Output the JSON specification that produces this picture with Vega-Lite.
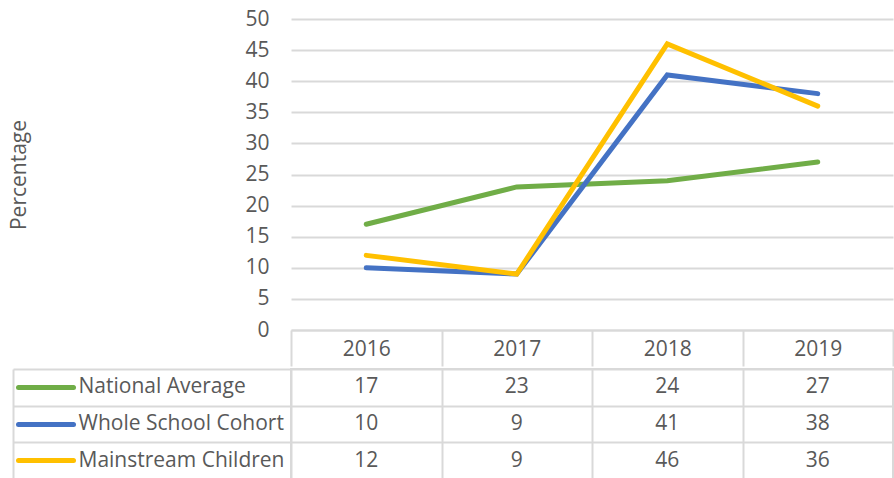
{
  "$schema": "https://vega.github.io/schema/vega-lite/v6.json",
  "background": "white",
  "padding": {"left": 8, "top": 8, "right": 0, "bottom": 0},
  "spacing": 0,
  "config": {
    "font": "Open Sans",
    "view": {"stroke": null},
    "axis": {"labelFont": "Open Sans", "labelColor": "#595959", "titleColor": "#595959", "titleFont": "Open Sans"}
  },
  "datasets": {
    "d": [
      {"year": "2016", "series": "National Average", "value": 17},
      {"year": "2017", "series": "National Average", "value": 23},
      {"year": "2018", "series": "National Average", "value": 24},
      {"year": "2019", "series": "National Average", "value": 27},
      {"year": "2016", "series": "Whole School Cohort", "value": 10},
      {"year": "2017", "series": "Whole School Cohort", "value": 9},
      {"year": "2018", "series": "Whole School Cohort", "value": 41},
      {"year": "2019", "series": "Whole School Cohort", "value": 38},
      {"year": "2016", "series": "Mainstream Children", "value": 12},
      {"year": "2017", "series": "Mainstream Children", "value": 9},
      {"year": "2018", "series": "Mainstream Children", "value": 46},
      {"year": "2019", "series": "Mainstream Children", "value": 36}
    ]
  },
  "resolve": {"scale": {"x": "independent", "y": "independent"}, "axis": {"x": "independent", "y": "independent"}},
  "vconcat": [
    {
      "width": 602,
      "height": 311,
      "data": {"name": "d"},
      "mark": {"type": "line", "strokeWidth": 5, "strokeCap": "round"},
      "encoding": {
        "x": {
          "field": "year", "type": "ordinal", "bandPosition": 0.5,
          "scale": {"type": "band", "paddingInner": 0, "paddingOuter": 0},
          "axis": {
            "title": null, "labelAngle": 0, "domain": true, "domainColor": "#d9d9d9", "domainWidth": 2,
            "ticks": true, "tickBand": "extent", "tickSize": 36, "tickColor": "#d9d9d9", "tickWidth": 2,
            "labelFontSize": 21, "labelBaseline": "middle", "labelPadding": -17, "grid": false
          }
        },
        "y": {
          "field": "value", "type": "quantitative",
          "scale": {"domain": [0, 50], "nice": false},
          "axis": {
            "title": "Percentage", "titleFontSize": 21, "titleFontWeight": "normal", "titlePadding": 215,
            "values": [0, 5, 10, 15, 20, 25, 30, 35, 40, 45, 50],
            "domain": false, "ticks": false, "labelPadding": 22, "labelFontSize": 21,
            "grid": true, "gridColor": "#d9d9d9", "gridWidth": 2
          }
        },
        "color": {
          "field": "series", "type": "nominal",
          "scale": {"domain": ["National Average", "Whole School Cohort", "Mainstream Children"], "range": ["#70ad47", "#4472c4", "#ffc000"]},
          "legend": null
        }
      }
    },
    {
      "width": 602,
      "height": 110,
      "data": {"name": "d"},
      "view": {"stroke": "#d9d9d9", "strokeWidth": 2},
      "resolve": {"axis": {"y": "independent"}},
      "layer": [
        {
          "mark": {"type": "text", "fontSize": 21, "color": "#595959", "font": "Open Sans"},
          "encoding": {
            "x": {
              "field": "year", "type": "ordinal", "bandPosition": 0.5,
              "scale": {"type": "band", "paddingInner": 0, "paddingOuter": 0},
              "axis": {"title": null, "labels": false, "ticks": false, "domain": false, "grid": true, "tickBand": "extent", "gridColor": "#d9d9d9", "gridWidth": 2}
            },
            "y": {
              "field": "series", "type": "ordinal", "bandPosition": 0.5,
              "scale": {"type": "band", "paddingInner": 0, "paddingOuter": 0, "domain": ["National Average", "Whole School Cohort", "Mainstream Children"]},
              "axis": {
                "orient": "left", "title": null, "labels": false, "offset": 278, "domain": true, "domainColor": "#d9d9d9", "domainWidth": 2,
                "ticks": true, "tickSize": -278, "tickBand": "extent", "tickColor": "#d9d9d9", "tickWidth": 2,
                "grid": true, "gridColor": "#d9d9d9", "gridWidth": 2
              }
            },
            "text": {"field": "value", "type": "quantitative"}
          }
        },
        {
          "mark": {"type": "point", "opacity": 0},
          "encoding": {
            "y": {
              "field": "series", "type": "ordinal", "bandPosition": 0.5,
              "axis": {
                "orient": "left", "title": null, "offset": 218, "domain": false, "grid": false,
                "ticks": true, "tickSize": 55, "tickWidth": 5, "tickCap": "round",
                "tickColor": {"condition": [
                  {"test": "datum.value === 'National Average'", "value": "#70ad47"},
                  {"test": "datum.value === 'Whole School Cohort'", "value": "#4472c4"}
                ], "value": "#ffc000"},
                "labels": true, "labelAlign": "left", "labelBaseline": "middle", "labelPadding": -60,
                "labelFontSize": 21, "labelLimit": 400
              }
            }
          }
        }
      ]
    }
  ]
}
